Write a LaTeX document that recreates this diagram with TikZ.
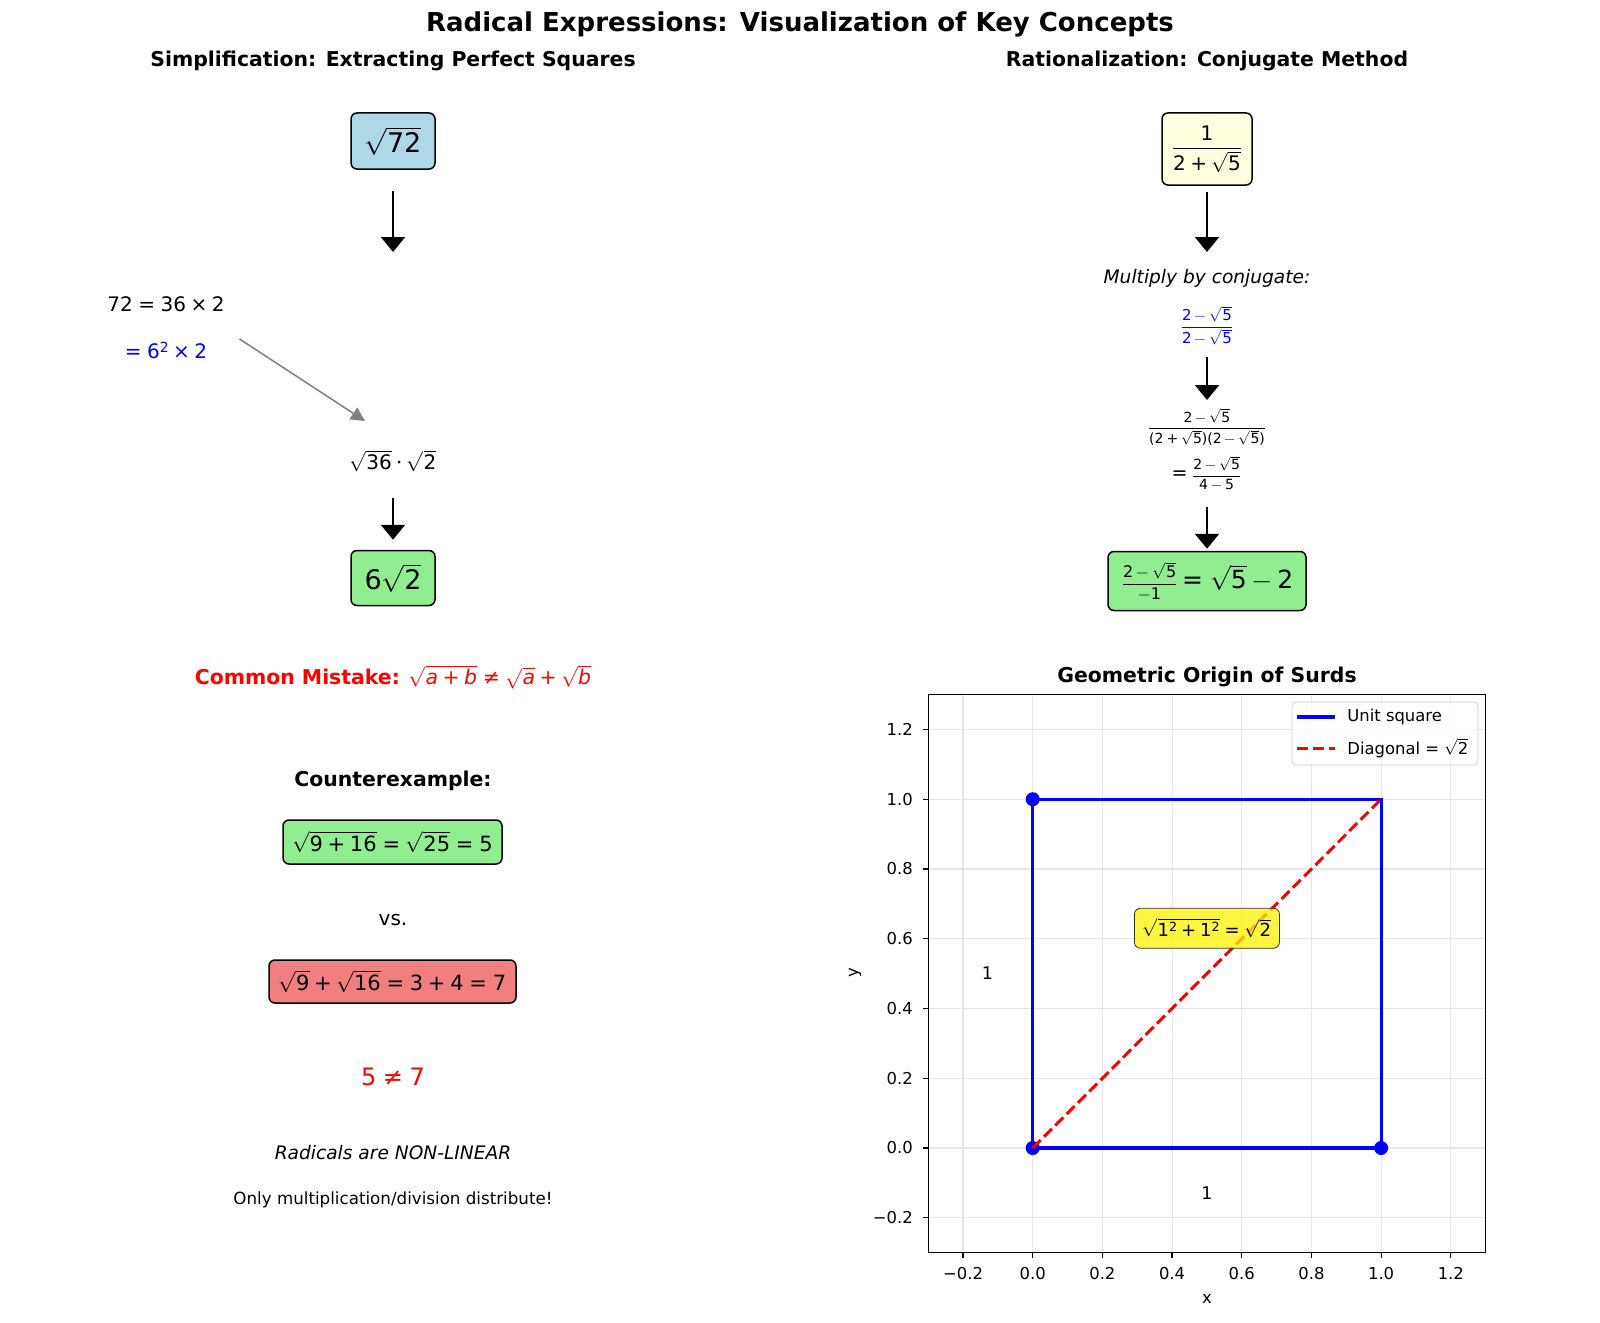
\documentclass[tikz,border=0pt]{standalone}
\usepackage{fontspec}
\setmainfont{DejaVu Sans}
\usepackage{unicode-math}
\setmathfont{latinmodern-math.otf}
\setmathfont{DejaVu Sans}[range={up/num,"002B,"003D,"2212,"00D7,"2260,"22C5,"0028,"0029}]
\setmathfont{DejaVu Sans Oblique}[range=it->up]
\usetikzlibrary{arrows.meta,positioning,calc}

\definecolor{lblue}{HTML}{ADD8E6}
\definecolor{lgreen}{HTML}{90EE90}
\definecolor{lcoral}{HTML}{F08080}
\definecolor{lyellow}{HTML}{FFFFE0}
\definecolor{pblue}{HTML}{0000FF}
\definecolor{pred}{HTML}{FF0000}
\definecolor{gridgray}{HTML}{E7E7E7}

\newcommand{\fsz}[1]{\fontsize{#1}{#1}\selectfont}
\newcommand{\sqd}[1]{\raisebox{0.3em}{\fsz{#1}2}}

\tikzset{
  ttl/.style={font=\bfseries\fsz{13}},
  subttl/.style={font=\bfseries\fsz{10.2}},
  eqtxt/.style={font=\fsz{10}, inner sep=0pt},
  stepbox/.style={draw, line width=0.75pt, rounded corners=3pt, inner sep=0pt},
  flow/.style={-{Triangle[width=12pt,length=7.5pt]}, line width=1pt},
  hint/.style={-{Triangle[width=7pt,length=7pt]}, draw=gray, fill=gray, line width=0.75pt},
  gridline/.style={draw=gridgray, line width=0.55pt},
  ticklbl/.style={font=\fsz{8.2}, inner sep=0pt},
  sqline/.style={draw=pblue, line width=1.6pt},
  diagline/.style={draw=pred, line width=1.5pt, dash pattern=on 5.6pt off 2.4pt},
}

\begin{document}
\begin{tikzpicture}[x=0.5pt, y=-0.5pt]
\useasboundingbox (0,0) rectangle (1600,1322);

% titles
\node[ttl] (title) at (800,24) {Radical Expressions: Visualization of Key Concepts};
\node[subttl] (simpttl) at (393,61) {Simplification: Extracting Perfect Squares};
\node[subttl] (ratttl) at (1207,61) {Rationalization: Conjugate Method};

% left: simplification
\node[stepbox, fill=lblue, minimum width=42pt, minimum height=28pt, font=\fsz{13.5}] (sq72) at (393,141) {$\sqrt{72}$};
\coordinate (sqend) at (393,252);
\draw[flow, shorten <=10.5pt] (sq72.south) -- (sqend);
\node[eqtxt] (factA) at (166,304) {$72 = 36\times 2$};
\node[eqtxt, text=pblue] (factB) at (166,350) {$= 6\sqd{7}\times 2$};
\node[eqtxt] (prod) at (393,461) {$\sqrt{36}\cdot\sqrt{2}$};
\coordinate (hintend) at (365,421);
\draw[hint] ([xshift=16pt,yshift=5.5pt]factB.east) -- (hintend);
\node[stepbox, fill=lgreen, minimum width=42pt, minimum height=27.5pt, font=\fsz{13.5}] (res) at (393,578) {$6\sqrt{2}$};
\draw[flow, shorten >=5pt] ([yshift=-18.5pt]prod.center) -- (res.north);

% common mistake
\node[font=\fsz{10.2}, text=pred] (mistake) at (393,677) {\textbf{Common Mistake:} $\sqrt{a+b}\neq\sqrt{a}+\sqrt{b}$};
\node[subttl] (counter) at (393,781) {Counterexample:};
\node[stepbox, fill=lgreen, minimum width=109.5pt, minimum height=22pt, font=\fsz{10.5}] (good) at (392.5,842) {$\sqrt{9+16}=\sqrt{25}=5$};
\node[font=\fsz{10}] (vs) at (393,920) {vs.};
\node[stepbox, fill=lcoral, minimum width=123.5pt, minimum height=21.5pt, font=\fsz{10.5}] (bad) at (392.5,981.5) {$\sqrt{9}+\sqrt{16}=3+4=7$};
\node[font=\fsz{12}, text=pred] (neq) at (393,1077) {$5\neq 7$};
\node[font=\itshape\fsz{9.3}] (nonlin) at (393,1153) {Radicals are NON-LINEAR};
\node[font=\fsz{8.35}] (distr) at (393,1200) {Only multiplication/division distribute!};

% right: rationalization
\node[stepbox, fill=lyellow, minimum width=45pt, minimum height=36pt, font=\fsz{10}] (frac) at (1207,149) {$\displaystyle\frac{1}{2+\sqrt{5}}$};
\node[font=\itshape\fsz{9.3}] (mult) at (1207,278) {Multiply by conjugate:};
\draw[flow, shorten <=3pt] (frac.south) -- ([yshift=13pt]mult.center);
\node[font=\fsz{7.5}, text=pblue] (conj) at (1207,326) {$\displaystyle\frac{2-\sqrt{5}}{2-\sqrt{5}}$};
\node[font=\fsz{7}, inner sep=0pt] (stepA) at (1207,427) {$\displaystyle\frac{2-\sqrt{5}}{(2+\sqrt{5})(2-\sqrt{5})}$};
\draw[flow] ([yshift=-15.5pt]conj.center) -- ([yshift=13.5pt]stepA.center);
\node[inner sep=0pt] (stepB) at (1207,473) {{\fsz{9.5}$=$}\,{\fsz{7}$\displaystyle\frac{2-\sqrt{5}}{4-5}$}};
\node[stepbox, fill=lgreen, minimum width=99pt, minimum height=29.5pt] (fin) at (1207,581) {{\fsz{8}$\displaystyle\frac{2-\sqrt{5}}{-1}$}\,{\fsz{12.5}$=\sqrt{5}-2$}};
\draw[flow, shorten >=1pt] ([yshift=-17pt]stepB.center) -- (fin.north);

% geometric plot
\node[subttl] (plotttl) at (1207,677) {Geometric Origin of Surds};
\begin{scope}[shift={(516.35pt,-574pt)}, x=174.2pt, y=174.4pt]
  \foreach \v/\l in {-0.2/−0.2,0/0.0,0.2/0.2,0.4/0.4,0.6/0.6,0.8/0.8,1/1.0,1.2/1.2} {
    \draw[gridline] (\v,-0.3) -- (\v,1.3);
    \draw[gridline] (-0.3,\v) -- (1.3,\v);
    \draw[line width=0.6pt] (\v,-0.3) -- ++(0pt,-2.55pt);
    \draw[line width=0.6pt] (-0.3,\v) -- ++(-2.55pt,0pt);
    \node[ticklbl, anchor=north] at ([yshift=-7pt]\v,-0.3) {\l};
    \node[ticklbl, anchor=east] at ([xshift=-7.5pt]-0.3,\v) {\l};
  }
  \draw[line width=0.65pt] (-0.3,-0.3) rectangle (1.3,1.3);
  \draw[sqline] (0,0) -- (1,0) -- (1,1) -- (0,1) -- cycle;
  \foreach \p in {(0,0),(1,0),(0,1)}
    \fill[pblue] \p circle (3.5pt);
  \draw[diagline] (0,0) -- (1,1);
  \node[draw=black, draw opacity=0.8, fill=yellow, fill opacity=0.75, text opacity=1,
        rounded corners=3pt, inner sep=0pt, minimum width=72.5pt, minimum height=20pt,
        font=\fsz{9}] (pyth) at (0.5,0.63) {$\sqrt{1\sqd{6.3}+1\sqd{6.3}}=\sqrt{2}$};
  \node[font=\fsz{8.7}] (sideb) at (0.5,-0.13) {1};
  \node[font=\fsz{8.7}] (sidel) at (-0.13,0.5) {1};
\end{scope}
\node[font=\fsz{8.2}] (xlab) at (1207,1299) {x};
\node[font=\fsz{8.2}, rotate=90] (ylab) at (855,973) {y};

% legend
\draw[rounded corners=2pt, draw=gray!35, fill=white, fill opacity=0.8] (1292,702) rectangle (1478,765);
\draw[sqline] (1297,717) -- (1335,717);
\node[anchor=west, inner sep=0pt, font=\fsz{8.2}] (legsq) at (1347,717) {Unit square};
\draw[diagline] (1297,748) -- (1335,748);
\node[anchor=west, inner sep=0pt, font=\fsz{8.2}] (legdg) at (1347,748) {Diagonal = $\sqrt{2}$};
\end{tikzpicture}
\end{document}
